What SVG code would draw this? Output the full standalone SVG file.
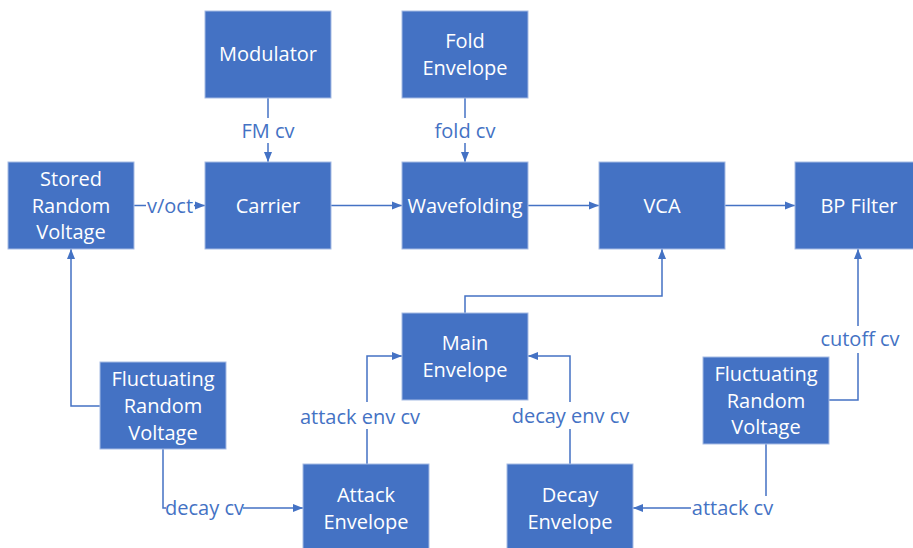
<svg xmlns="http://www.w3.org/2000/svg" width="913" height="548" viewBox="0 0 913 548">
<style>
.box{fill:#4472C4;stroke:#A6BBE4;stroke-width:1}
.bt{font-family:"Open Sans","Noto Sans",sans-serif;font-size:20px;fill:#FFFFFF;text-anchor:middle}
.lt{font-family:"Open Sans","Noto Sans",sans-serif;font-size:20px;fill:#4472C4;text-anchor:middle}
.ln{fill:none;stroke:#4472C4;stroke-width:1.5;marker-end:url(#ah)}
.bg{fill:#FFFFFF}
</style>
<defs>
<marker id="ah" markerUnits="userSpaceOnUse" markerWidth="10" markerHeight="10" viewBox="0 0 10 10" refX="10" refY="5" orient="auto">
<path d="M0,1 L10,5 L0,9 Z" fill="#4472C4"/>
</marker>
</defs>
<rect width="913" height="548" fill="#FFFFFF"/>
<g id="connectors">
<path class="ln" d="M268,98 V162"/>
<path class="ln" d="M465,98 V162"/>
<path class="ln" d="M134,205.5 H205"/>
<path class="ln" d="M331,205.5 H402"/>
<path class="ln" d="M528,205.5 H599"/>
<path class="ln" d="M725,205.5 H795"/>
<path class="ln" d="M465,313 V296 H662 V249"/>
<path class="ln" d="M100,406 H71 V249"/>
<path class="ln" d="M163,449 V508 H303"/>
<path class="ln" d="M367,464 V356 H402"/>
<path class="ln" d="M570,464 V356 H528"/>
<path class="ln" d="M766,444 V508 H633"/>
<path class="ln" d="M829,400 H858 V249"/>
<rect class="bg" x="239" y="118" width="58" height="25"/>
<text class="lt" x="268" y="138">FM cv</text>
<rect class="bg" x="431" y="118" width="68" height="25"/>
<text class="lt" x="465" y="138">fold cv</text>
<rect class="bg" x="146" y="193" width="48" height="24"/>
<text class="lt" x="170" y="212.5">v/oct</text>
<rect class="bg" x="166" y="496" width="77" height="24"/>
<text class="lt" x="204.5" y="515">decay cv</text>
<rect class="bg" x="299" y="402" width="122" height="27"/>
<text class="lt" x="360" y="423.5">attack env cv</text>
<rect class="bg" x="511" y="402" width="119" height="27"/>
<text class="lt" x="570.5" y="423">decay env cv</text>
<rect class="bg" x="691" y="496" width="83" height="24"/>
<text class="lt" x="732.5" y="515">attack cv</text>
<rect class="bg" x="819" y="326" width="82" height="27"/>
<text class="lt" x="860" y="346">cutoff cv</text>
</g>
<g id="modulator"><rect class="box" x="205" y="11" width="126" height="87"/><text class="bt" x="268" y="61">Modulator</text></g>
<g id="fold-envelope"><rect class="box" x="402" y="11" width="126" height="87"/><text class="bt" x="465" y="48">Fold</text><text class="bt" x="465" y="75">Envelope</text></g>
<g id="stored-random-voltage"><rect class="box" x="8" y="162" width="126" height="87"/><text class="bt" x="71" y="186">Stored</text><text class="bt" x="71" y="212.5">Random</text><text class="bt" x="71" y="239">Voltage</text></g>
<g id="carrier"><rect class="box" x="205" y="162" width="126" height="87"/><text class="bt" x="268" y="212.5">Carrier</text></g>
<g id="wavefolding"><rect class="box" x="402" y="162" width="126" height="87"/><text class="bt" x="465" y="212.5">Wavefolding</text></g>
<g id="vca"><rect class="box" x="599" y="162" width="126" height="87"/><text class="bt" x="662" y="212.5">VCA</text></g>
<g id="bp-filter"><rect class="box" x="795" y="162" width="126" height="87"/><text class="bt" x="859" y="212.5">BP Filter</text></g>
<g id="main-envelope"><rect class="box" x="402" y="313" width="126" height="87"/><text class="bt" x="465" y="350">Main</text><text class="bt" x="465" y="377">Envelope</text></g>
<g id="fluctuating-random-voltage-left"><rect class="box" x="100" y="362" width="126" height="87"/><text class="bt" x="163" y="386">Fluctuating</text><text class="bt" x="163" y="413">Random</text><text class="bt" x="163" y="439.5">Voltage</text></g>
<g id="fluctuating-random-voltage-right"><rect class="box" x="703" y="357" width="126" height="87"/><text class="bt" x="766" y="381">Fluctuating</text><text class="bt" x="766" y="407.5">Random</text><text class="bt" x="766" y="433.5">Voltage</text></g>
<g id="attack-envelope"><rect class="box" x="303" y="464" width="126" height="87"/><text class="bt" x="366" y="502">Attack</text><text class="bt" x="366" y="528.5">Envelope</text></g>
<g id="decay-envelope"><rect class="box" x="507" y="464" width="126" height="87"/><text class="bt" x="570" y="502">Decay</text><text class="bt" x="570" y="528.5">Envelope</text></g>
</svg>
